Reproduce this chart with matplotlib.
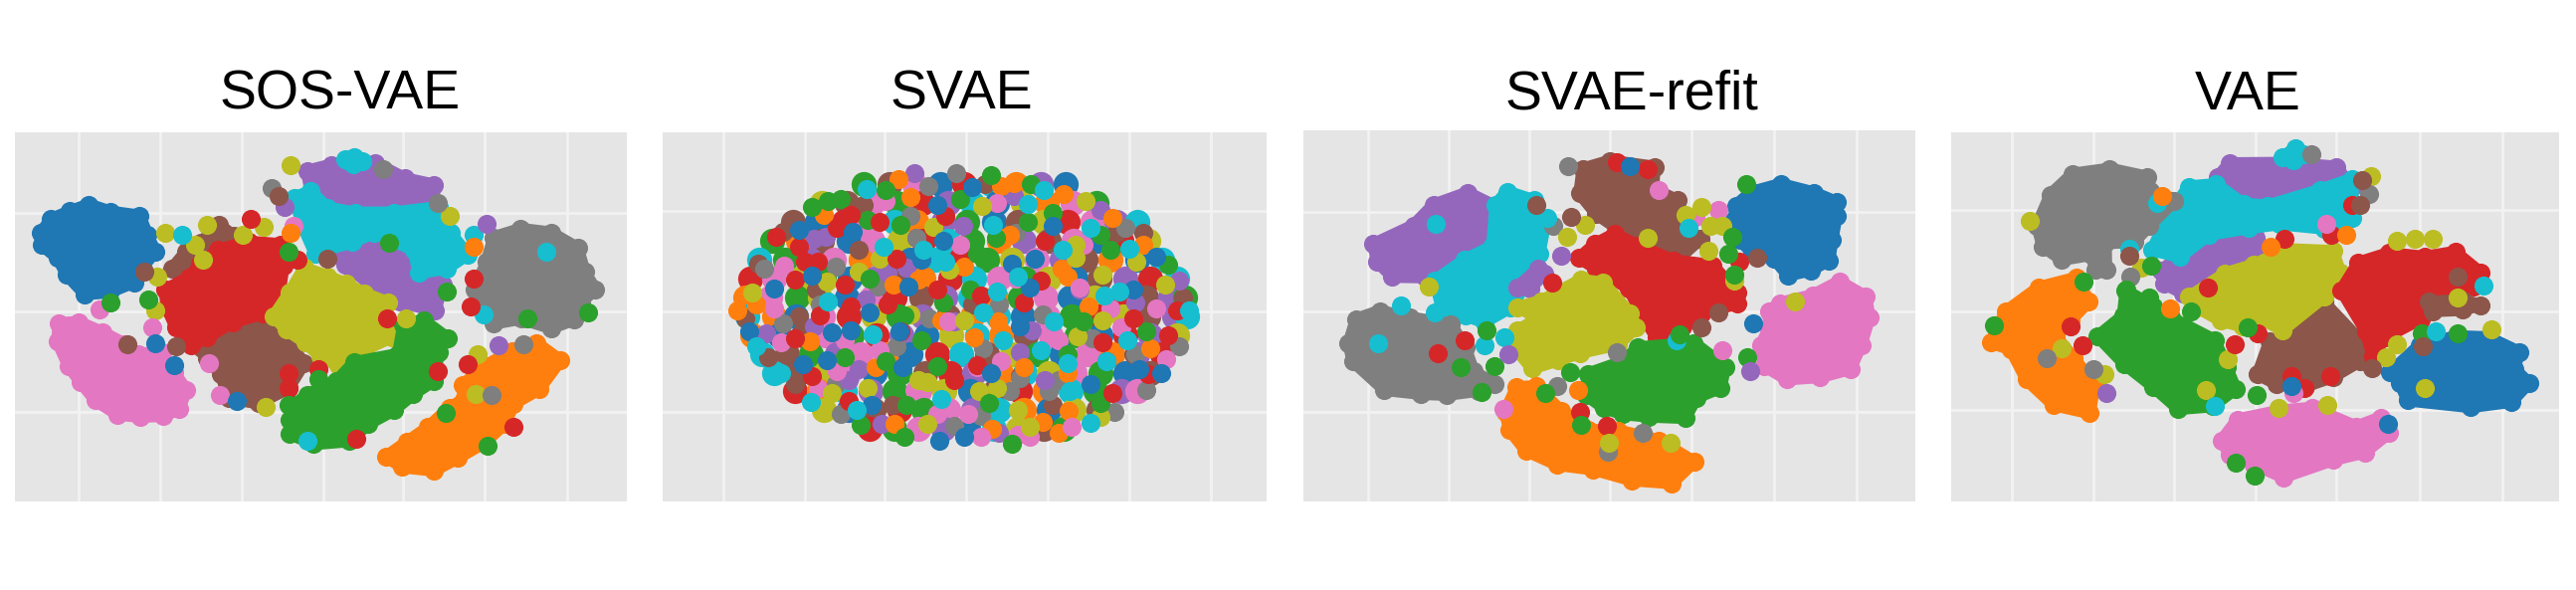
import numpy as np
import matplotlib
matplotlib.use('Agg')
import matplotlib.pyplot as plt

plt.rcParams['font.family'] = ['Liberation Sans', 'DejaVu Sans']

BLUE, ORANGE, GREEN, RED, PURPLE = '#1f77b4', '#ff7f0e', '#2ca02c', '#d62728', '#9467bd'
BROWN, PINK, GRAY, OLIVE, CYAN = '#8c564b', '#e377c2', '#7f7f7f', '#bcbd22', '#17becf'

titles = ['SOS-VAE', 'SVAE', 'SVAE-refit', 'VAE']

# ---- SOS-VAE cluster outlines
sos_blue = [(210,530),(270,550),(345,565),(365,620),(385,670),(350,720),(330,760),(265,790),(200,795),(150,740),(125,690),(85,650),(85,615),(110,575),(160,550)]
sos_pink = [(130,850),(180,845),(240,870),(300,900),(340,930),(400,930),(430,990),(458,1040),(440,1095),(400,1115),(340,1120),(280,1115),(220,1075),(180,1020),(150,970),(125,900)]
sos_brown_a = [(400,720),(430,670),(480,630),(530,585),(570,620),(520,700),(440,760)]
sos_brown_b = [(470,920),(560,870),(640,850),(700,900),(740,965),(700,1040),(620,1085),(540,1070),(515,1000),(480,950)]
sos_red = [(380,770),(440,730),(470,690),(520,650),(600,630),(680,640),(690,700),(680,790),(640,840),(560,870),(490,910),(450,930),(410,880),(385,820)]
sos_olive = [(640,840),(680,770),(720,700),(780,720),(830,740),(880,770),(940,800),(935,860),(950,900),(880,940),(810,985),(760,960),(720,920),(670,880)]
sos_green = [(690,1080),(720,1050),(790,1010),(840,950),(960,930),(970,850),(1020,840),(1080,890),(1060,930),(1050,1010),(1000,1050),(950,1100),(880,1140),(830,1185),(740,1190),(680,1160),(680,1120)]
sos_orange = [(910,1220),(960,1180),(1010,1140),(1060,1080),(1100,1050),(1100,1010),(1160,960),(1230,920),(1290,900),(1350,950),(1300,1030),(1240,1070),(1220,1130),(1160,1190),(1090,1230),(1030,1262),(950,1250)]
sos_gray = [(1120,770),(1150,690),(1170,620),(1240,595),(1320,605),(1390,650),(1410,720),(1435,770),(1400,810),(1380,860),(1320,885),(1240,860),(1170,870),(1140,790)]
sos_purple_a = [(720,450),(780,430),(900,420),(980,470),(1050,490),(1050,570),(900,600),(800,580),(730,520)]
sos_purple_b = [(750,630),(830,640),(900,630),(1000,670),(1070,760),(1050,835),(960,815),(880,770),(810,700)]
sos_cyan = [(690,520),(730,500),(770,545),(840,555),(950,555),(1060,545),(1090,620),(1130,680),(1080,720),(1010,735),(1000,670),(900,630),(830,650),(760,670),(740,680),(710,600)]
sos_cyan_top = [(810,420),(850,405),(880,430),(840,450)]

sos_shapes = [(sos_brown_a, BROWN), (sos_brown_b, BROWN), (sos_purple_a, PURPLE), (sos_purple_b, PURPLE),
              (sos_cyan, CYAN), (sos_cyan_top, CYAN), (sos_red, RED), (sos_olive, OLIVE), (sos_green, GREEN),
              (sos_blue, BLUE), (sos_pink, PINK), (sos_orange, ORANGE), (sos_gray, GRAY)]
sos_stray = {
    OLIVE: [(395,620),(375,735),(372,825),(495,597),(580,625),(630,603),(465,650),(485,690),(695,440),(1075,575),(1135,1048),(970,845),(635,1080),(1140,940)],
    CYAN: [(435,625),(830,425),(1130,625),(1155,835),(735,1170),(1305,670)],
    GRAY: [(650,500),(1250,915),(1175,1050),(915,450),(1045,540)],
    PURPLE: [(1163,595),(1190,918),(680,550)],
    PINK: [(237,823),(365,870),(700,600),(525,1050),(500,965)],
    RED: [(600,583),(710,690),(925,845),(760,980),(690,990),(690,1030),(1118,967),(1125,815),(1045,985),(1225,1135),(850,1165),(1130,740)],
    GREEN: [(355,795),(690,670),(760,1008),(690,1075),(1065,1097),(1165,1183),(1068,775),(1405,830),(1260,845),(265,805),(930,645)],
    BLUE: [(370,912),(415,970),(565,1065)],
    BROWN: [(665,520),(782,688),(345,722),(305,915),(420,920)],
    ORANGE: [(1130,655),(695,620)],
}

# ---- SVAE, no clusters at all, single points
# back layer, mostly hidden by the points on top of it
svae_back_rows = [
    (490, [525,590,650,712,770,835,895,955,1015]),
    (540, [425,485,548,605,668,730,790,850,912,970,1032,1090]),
    (590, [355,412,478,535,600,655,720,778,842,900,962,1020,1082,1140,1190]),
    (640, [305,368,425,490,548,612,672,732,790,855,915,975,1035,1095,1152,1215]),
    (690, [272,335,395,455,520,575,640,700,760,825,885,945,1005,1065,1125,1190,1250]),
    (740, [252,310,372,430,492,552,610,672,735,795,855,918,975,1040,1098,1160,1220,1285]),
    (790, [240,300,365,420,485,545,600,665,725,785,848,905,968,1025,1085,1150,1210,1270,1305]),
    (840, [245,308,362,428,490,550,610,668,730,790,852,912,972,1030,1092,1155,1215,1278,1310]),
    (890, [255,320,378,435,498,558,618,678,738,800,860,920,980,1042,1100,1160,1222,1285]),
    (940, [280,340,398,462,520,585,640,705,762,825,885,945,1005,1068,1128,1190,1250]),
    (990, [310,370,432,490,552,612,675,735,795,858,918,975,1038,1100,1160,1220]),
    (1040, [360,418,480,542,600,662,722,785,845,905,965,1028,1088,1150,1190]),
    (1090, [430,490,550,612,672,732,792,855,915,975,1035,1095]),
    (1140, [540,600,660,720,780,842,900,962,1010]),
]
svae_back_c = ('gnkbrcopbyn' 'kgrpcbyokgnb' 'rkcopgbnyrkpcgo' 'nbkyrcgopnkbrycg' 'pkonbcrgykpnobcrk'
               'ygbpnorckgybnprcok' 'gybkrnpcogkbyrnpgco' 'bkrygpnocbkgrynpcob' 'nkgrpbyconkgbrpycn'
               'gpkobrcnygbkoprcn' 'ykbgnrpocykgbnro' 'cpgkybnrocgpkyb' 'nrgkpcobynrg' 'kpbcyngok')
svae_orange = [(610,475),(640,525),(890,487),(1010,517),(860,495),(430,572),(1130,578),(1205,650),(770,708),(1005,715),(660,742),(598,755),(220,825),(265,810),(395,908),(853,855),(1072,815),(795,895),(1220,925),(555,975),(915,975),(1020,990),(1022,1092),(960,1120),(600,1125),(838,1140),(1000,1150),(1020,735),(880,625),(715,850)]
svae_gray = [(750,460),(683,495),(895,620),(1160,605),(655,632),(285,715),(458,708),(560,762),(855,808),(960,835),(685,845),(605,920),(815,925),(1080,900),(458,1020),(905,1005),(975,1040),(880,1040),(745,1130),(810,1105),(1135,1095),(470,1100),(1210,1035),(1290,920),(1185,940),(640,575),(330,860),(1000,1010),(420,810)]
svae_brown = [(525,545),(330,615),(270,700),(240,845),(370,840),(515,665),(790,810),(655,632),(1140,620),(1205,620),(905,1000),(985,1075),(360,1020),(295,950),(595,1075),(820,490),(1300,790),(1180,940),(410,770)]
svae_purple = [(650,460),(890,522),(405,635),(435,630),(1100,558),(767,600),(290,885),(405,868),(745,855),(935,878),(530,795),(905,935),(1185,805),(515,980),(965,1010),(855,1150),(1290,745),(630,712),(585,725),(1050,770),(570,1125),(490,1010)]
svae_green = [(400,550),(440,535),(470,530),(835,465),(932,490),(760,530),(580,505),(985,565),(925,590),(615,597),(535,585),(1100,625),(1125,665),(1265,703),(848,632),(800,675),(540,740),(785,770),(718,805),(625,838),(1060,855),(1212,880),(665,905),(1020,940),(480,950),(580,960),(705,972),(1100,1070),(830,1070),(885,1180),(630,1075),(518,1128),(625,1160)]
svae_red = [(495,572),(565,590),(460,605),(315,630),(370,655),(385,695),(415,695),(360,742),(605,688),(725,575),(965,640),(955,745),(705,770),(915,805),(480,755),(495,815),(585,810),(420,838),(360,900),(615,880),(810,785),(1180,845),(1285,825),(1265,890),(1105,910),(800,970),(745,1010),(1130,1045),(490,1065),(400,1000),(1215,995)]
svae_pink = [(580,535),(850,540),(1060,650),(333,705),(310,820),(540,615),(760,650),(1050,765),(1235,820),(1000,905),(325,910),(565,930),(480,905),(1125,820),(895,740),(730,855),(650,1035),(800,975),(460,985),(415,1030),(705,1100),(780,1100),(900,1155),(1030,1135),(1260,955),(930,1160),(810,1160),(860,960),(1150,870)]
svae_blue = [(790,497),(705,545),(370,612),(500,615),(720,640),(985,600),(940,688),(1235,683),(885,700),(635,762),(310,768),(400,733),(930,765),(540,830),(1180,770),(450,882),(495,877),(612,880),(905,868),(380,968),(438,958),(620,975),(835,992),(1195,980),(1248,990),(1075,1020),(545,1075),(710,1170),(770,1160),(1115,960),(250,880),(665,690)]
svae_olive = [(813,548),(695,603),(565,687),(733,717),(1040,650),(1105,730),(1188,695),(1258,755),(438,748),(255,777),(1040,685),(515,722),(640,835),(1105,850),(1045,893),(660,1010),(680,1015),(535,1030),(450,1045),(805,1040),(850,1030),(900,1088),(680,1125),(930,1135),(1100,1108),(770,850),(1065,535)]
svae_cyan = [(533,503),(963,505),(925,543),(840,597),(1075,605),(575,655),(670,665),(1008,665),(1170,660),(725,695),(900,735),(1110,785),(1145,775),(850,775),(440,800),(815,830),(988,855),(1315,825),(1165,905),(547,888),(865,905),(955,930),(265,920),(1020,965),(1115,960),(325,990),(1025,1040),(715,1060),(510,1090),(398,1068),(1075,1122)]

svae_points = [(svae_brown, BROWN), (svae_gray, GRAY), (svae_purple, PURPLE), (svae_orange, ORANGE), (svae_pink, PINK),
               (svae_olive, OLIVE), (svae_green, GREEN), (svae_red, RED), (svae_blue, BLUE), (svae_cyan, CYAN)]
svae_letters = {'b': BLUE, 'o': ORANGE, 'g': GREEN, 'r': RED, 'p': PURPLE, 'n': BROWN, 'k': PINK, 'y': OLIVE, 'c': CYAN}

# ---- SVAE-refit
ref_blue = [(1060,540),(1100,500),(1180,475),(1270,500),(1330,530),(1330,570),(1320,640),(1310,700),(1260,730),(1200,745),(1160,700),(1100,680),(1070,640),(1055,580)]
ref_pink = [(1140,820),(1170,795),(1260,770),(1330,735),(1400,780),(1410,840),(1390,920),(1360,990),(1280,1015),(1190,1020),(1130,980),(1120,920),(1140,870)]
ref_brown = [(690,440),(760,415),(880,430),(880,490),(945,530),(930,590),(1000,640),(940,700),(850,640),(780,620),(720,570),(680,510)]
ref_red = [(680,680),(720,640),(770,610),(830,640),(930,680),(1030,700),(1090,780),(1090,810),(1000,840),(950,880),(880,910),(840,850),(800,770),(720,710)]
ref_purple = [(180,650),(280,590),(340,530),(430,500),(500,540),(490,620),(400,700),(320,750),(230,745),(190,700)]
ref_cyan = [(490,530),(520,495),(590,520),(620,590),(610,670),(570,770),(530,830),(460,870),(410,850),(350,830),(330,750),(400,690),(480,640)]
ref_purple_b = [(530,770),(600,700),(620,720),(570,780)]
ref_gray = [(120,910),(140,840),(200,815),(280,830),(390,850),(430,920),(450,990),(500,1025),(460,1045),(380,1060),(310,1060),(210,1045),(130,960)]
ref_olive = [(530,810),(590,790),(700,730),(760,740),(830,830),(845,870),(800,920),(700,950),(640,970),(570,990),(525,930),(530,880),(580,840)]
ref_green = [(700,990),(790,950),(830,910),(980,900),(1060,970),(1050,1030),(990,1060),(960,1120),(860,1120),(790,1110),(740,1090),(695,1050)]
ref_orange = [(500,1090),(530,1020),(580,1015),(640,1080),(720,1130),(800,1140),(900,1170),(985,1230),(930,1290),(830,1285),(730,1260),(630,1245),(550,1200),(510,1140)]

ref_shapes = [(ref_brown, BROWN), (ref_red, RED), (ref_purple, PURPLE), (ref_cyan, CYAN), (ref_purple_b, PURPLE),
              (ref_gray, GRAY), (ref_olive, OLIVE), (ref_green, GREEN), (ref_orange, ORANGE), (ref_blue, BLUE), (ref_pink, PINK)]
ref_stray = {
    GRAY: [(667,440),(640,1025),(785,935),(848,1150),(762,1200),(630,600)],
    RED: [(785,430),(860,450),(628,750),(1080,695),(695,1095),(760,1130),(415,905),(350,938)],
    BLUE: [(815,440),(1115,860)],
    PINK: [(885,505),(1030,558),(975,575),(510,1085),(1040,930)],
    OLIVE: [(990,550),(950,570),(1010,600),(1040,600),(708,598),(663,628),(860,632),(1005,665),(1070,745),(328,760),(915,1175),(765,1175),(1215,800)],
    CYAN: [(958,605),(615,578),(260,810),(342,830),(205,912),(462,918),(512,895),(930,905),(345,595)],
    GREEN: [(1097,490),(1065,630),(1055,675),(1070,730),(468,878),(405,975),(487,973),(670,988),(935,888),(1100,950),(610,1045),(697,1128),(455,1040)],
    PURPLE: [(648,680),(522,940),(1107,985)],
    BROWN: [(588,545),(672,577),(1125,685),(1030,830),(990,870)],
    ORANGE: [(690,1035)],
}

# ---- VAE
vae_gray = [(225,600),(260,510),(320,450),(420,435),(520,460),(530,500),(590,530),(530,600),(490,650),(410,660),(410,730),(380,730),(370,690),(290,700),(240,660)]
vae_purple_a = [(670,470),(700,430),(860,420),(990,440),(1030,500),(940,510),(820,550),(720,510)]
vae_cyan = [(545,580),(600,490),(670,480),(740,530),(820,540),(950,500),(1030,470),(1030,580),(960,610),(850,600),(760,620),(650,630),(580,690),(510,670)]
vae_cyan_top = [(830,420),(880,380),(910,410),(870,440)]
vae_purple_b = [(530,720),(610,650),(700,630),(790,625),(810,670),(720,720),(660,760),(590,790),(540,760)]
vae_olive = [(600,790),(690,720),(770,690),(860,650),(980,660),(1000,720),(960,790),(850,890),(790,860),(740,880),(680,860),(620,820)]
vae_brown = [(770,1000),(800,900),(860,890),(950,790),(1040,890),(1050,960),(980,1010),(900,1040),(820,1030)]
vae_brown_b = [(1190,800),(1300,790),(1345,810),(1300,830),(1200,830)]
vae_red = [(975,770),(1020,690),(1100,660),(1200,670),(1280,660),(1345,720),(1330,760),(1200,800),(1190,860),(1090,910),(1060,960),(1040,890)]
vae_blue = [(1095,990),(1170,910),(1270,880),(1360,885),(1440,930),(1430,980),(1465,1020),(1420,1075),(1310,1095),(1140,1070),(1120,1020)]
vae_green = [(375,890),(440,830),(450,760),(520,800),(570,830),(690,900),(720,980),(740,1040),(680,1090),(590,1100),(520,1040),(440,970)]
vae_orange = [(110,910),(150,820),(240,750),(340,725),(375,790),(330,840),(290,880),(340,960),(390,1030),(375,1110),(280,1090),(205,1020),(160,930)]
vae_pink = [(680,1170),(720,1110),(830,1080),(920,1070),(1040,1130),(1100,1105),(1120,1150),(1060,1205),(980,1230),(840,1280),(760,1240),(700,1210)]

vae_shapes = [(vae_purple_a, PURPLE), (vae_purple_b, PURPLE), (vae_cyan, CYAN), (vae_cyan_top, CYAN), (vae_gray, GRAY),
              (vae_brown, BROWN), (vae_olive, OLIVE), (vae_red, RED), (vae_brown_b, BROWN), (vae_blue, BLUE),
              (vae_green, GREEN), (vae_orange, ORANGE), (vae_pink, PINK)]
vae_stray = {
    OLIVE: [(222,587),(300,925),(405,995),(835,1085),(955,1075),(1062,468),(1125,640),(1170,635),(1215,635),(1127,915),(1100,950),(710,955),(655,1035),(495,710),(1360,875),(1275,790),(1195,1030)],
    GRAY: [(263,952),(378,980),(395,705),(468,735),(915,410),(1058,515),(570,535)],
    RED: [(322,868),(350,918),(850,635),(965,625),(660,765),(727,915),(783,885),(962,1000),(865,1000),(898,1030),(1015,545)],
    GREEN: [(132,865),(353,748),(460,770),(515,790),(618,828),(520,705),(757,870),(780,1050),(1187,885),(1275,885),(775,1262),(728,1230)],
    PURPLE: [(410,1045)],
    CYAN: [(677,1078),(535,540),(1340,760),(1222,880),(465,660)],
    PINK: [(952,595),(870,1045)],
    ORANGE: [(567,820),(1000,625),(548,520),(815,655)],
    BROWN: [(1065,978),(1190,920),(1040,480),(1035,545),(1275,735),(465,680)],
    BLUE: [(1105,1125),(865,1025)],
}

W, H = 2589, 593
DOT = 190


def inset(outline, r=14):
    # outlines were read at the outer edge, dot centres sit a radius further in
    pts = np.array(outline, dtype=float)
    c = pts.mean(axis=0)
    d = pts - c
    n = np.hypot(d[:, 0], d[:, 1])
    return c + d * (np.maximum(n - r, 1) / n)[:, None]


def make_axes(left, right, top, bottom, xlim, ylim, xgrid, ygrid):
    ax = fig.add_axes([left / W, 1 - bottom / H, (right - left) / W, (bottom - top) / H])
    ax.set_facecolor('#e5e5e5')
    ax.set_xlim(*xlim)
    ax.set_ylim(*ylim)
    ax.set_xticks(xgrid)
    ax.set_yticks(ygrid)
    ax.tick_params(length=0, labelbottom=False, labelleft=False)
    ax.grid(True, color='#f2f2f2', lw=2)
    ax.set_axisbelow(True)
    for s in ax.spines.values():
        s.set_visible(False)
    return ax


def draw_clusters(ax, shapes, stray):
    for outline, color in shapes:
        pts = inset(outline)
        ax.fill(pts[:, 0], pts[:, 1], color=color, lw=9, joinstyle='round', zorder=2)
        ax.scatter(pts[:, 0], pts[:, 1], s=DOT, color=color, lw=0, zorder=2)
    for color, pts in stray.items():
        pts = np.array(pts)
        ax.scatter(pts[:, 0], pts[:, 1], s=DOT, color=color, lw=0, zorder=3)


fig = plt.figure(figsize=(W / 100, H / 100), dpi=100)

ax1 = make_axes(15, 630, 133, 504, (36, 1497), (1332, 352), [188, 383, 578, 773, 962, 1158, 1355], [565, 828, 1095])
draw_clusters(ax1, sos_shapes, sos_stray)

ax2 = make_axes(666, 1273, 133, 504, (39, 1503), (1332, 352), [187, 383, 578, 775, 972, 1170, 1368], [560, 828, 1095])
i = 0
for y, xs in svae_back_rows:
    for x in xs:
        ax2.scatter(x, y, s=330, color=svae_letters[svae_back_c[i]], lw=0, zorder=2)
        i += 1
for pts, color in svae_points:
    pts = np.array(pts)
    ax2.scatter(pts[:, 0], pts[:, 1], s=DOT, color=color, lw=0, zorder=3)

ax3 = make_axes(1310, 1925, 131, 504, (24, 1508), (1332, 346), [182, 377, 572, 768, 965, 1165, 1365], [563, 828, 1093])
draw_clusters(ax3, ref_shapes, ref_stray)

ax4 = make_axes(1961, 2572, 133, 504, (27, 1526), (1332, 352), [177, 377, 577, 777, 977, 1183, 1387], [558, 828, 1090])
draw_clusters(ax4, vae_shapes, vae_stray)

# titles are not centred on their panels in the original
for t, x in zip(titles, [342, 966, 1640, 2259]):
    fig.text(x / W, 1 - 110 / H, t, ha='center', va='baseline', fontsize=40, color='black')

fig.savefig('out.png', dpi=100)
